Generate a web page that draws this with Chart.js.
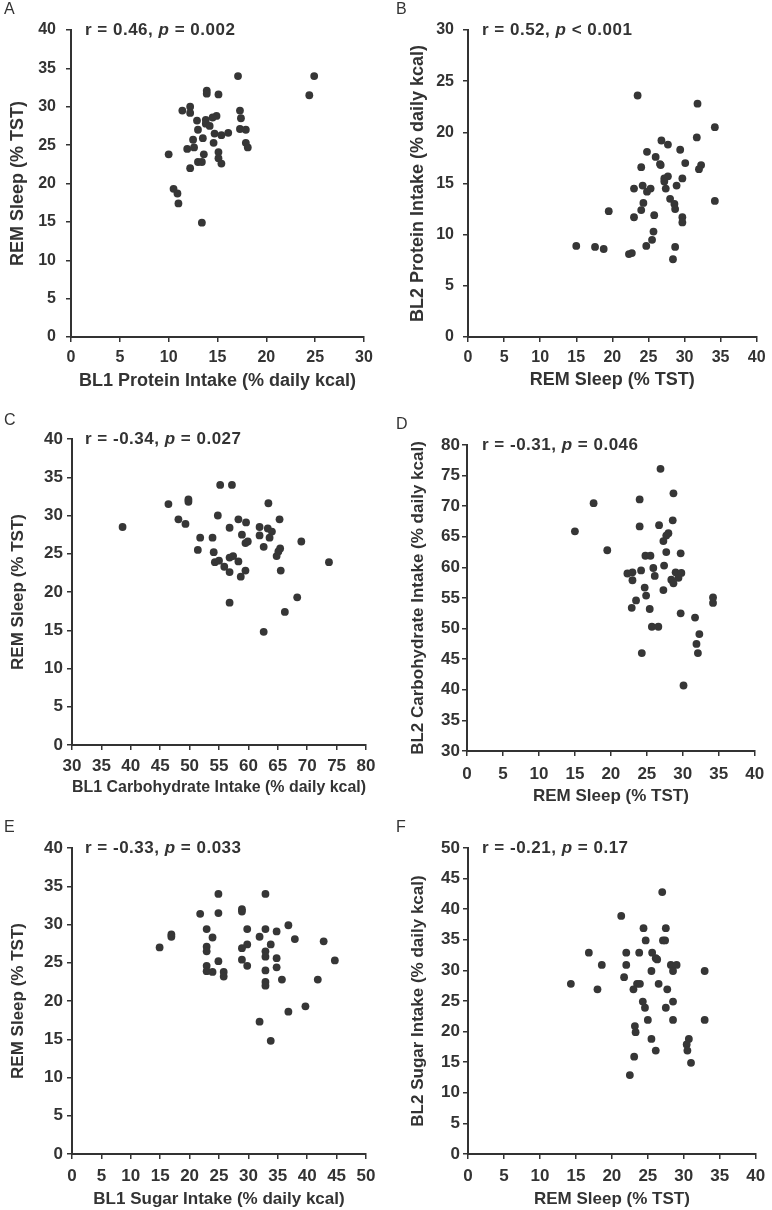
<!DOCTYPE html>
<html lang="en">
<head>
<meta charset="UTF-8">
<title>REM Sleep and Macronutrient Intake</title>
<script src="https://cdn.jsdelivr.net/npm/chart.js@4.4.1/dist/chart.umd.min.js"></script>
<style>
    body { margin: 0; background: #fff; }
    #page { position: relative; width: 772px; height: 1210px; overflow: hidden; }
    canvas.panel { position: absolute; }
    .letter { position: absolute; font: 16px 'Liberation Sans', Arial, sans-serif; color: #333; line-height: 18px; }
    .stat { position: absolute; font: bold 17px 'Liberation Sans', Arial, sans-serif; color: #333; line-height: 20px; white-space: nowrap; letter-spacing: 0.5px; }
</style>
</head>
<body>
<div id="page"></div>

<script>
// ---- data ----
// A: BL1 protein vs REM sleep
const bl1Protein = [17.1, 24.9, 24.4, 13.9, 13.9, 15.1, 12.2, 11.4, 12.2, 17.3, 17.4, 14.9, 14.5, 13.8, 12.9, 13.8, 14.2, 13.0, 17.3, 17.9, 14.7, 15.4, 16.1, 12.5, 13.5, 14.6, 17.9, 18.1, 11.9, 12.6, 10.0, 13.6, 15.1, 15.1, 13.0, 13.4, 15.4, 12.2, 10.5, 10.9, 11.0, 13.4];
const remSleepA = [34.0, 34.0, 31.5, 32.1, 31.7, 31.6, 30.0, 29.5, 29.2, 29.5, 28.5, 28.8, 28.6, 28.3, 28.2, 27.8, 27.5, 27.0, 27.1, 27.0, 26.5, 26.3, 26.6, 25.7, 25.9, 25.3, 25.3, 24.7, 24.5, 24.7, 23.8, 23.8, 24.1, 23.3, 22.8, 22.8, 22.6, 22.0, 19.3, 18.7, 17.4, 14.9];

// B: REM sleep vs BL2 protein
const remSleepB = [23.5, 31.8, 34.2, 31.7, 26.8, 27.7, 24.8, 29.4, 26.0, 30.1, 26.6, 26.7, 24.0, 32.3, 32.0, 27.7, 27.2, 29.7, 27.2, 24.2, 23.0, 25.3, 24.8, 27.4, 28.9, 28.0, 28.6, 24.3, 34.2, 28.7, 24.0, 19.5, 25.8, 23.0, 29.7, 29.7, 25.7, 25.5, 15.0, 17.6, 18.8, 24.7, 28.7, 22.3, 22.7, 28.4];
const bl2Protein = [23.6, 22.8, 20.5, 19.5, 19.2, 18.8, 18.1, 18.3, 17.6, 17.0, 16.9, 16.8, 16.6, 16.8, 16.4, 15.7, 15.5, 15.5, 15.2, 14.8, 14.5, 14.5, 14.2, 14.5, 14.8, 13.5, 13.0, 13.1, 13.3, 12.5, 12.4, 12.3, 11.9, 11.7, 11.7, 11.2, 10.3, 9.5, 8.9, 8.8, 8.6, 8.9, 8.8, 8.1, 8.2, 7.6];

// C: BL1 carbohydrate vs REM sleep
const bl1Carb = [55.2, 57.2, 46.4, 49.8, 49.8, 63.4, 54.8, 48.1, 49.3, 38.6, 58.3, 59.6, 65.3, 56.8, 61.9, 63.3, 64.0, 58.9, 61.9, 63.6, 51.8, 53.9, 59.5, 59.9, 69.0, 51.4, 54.1, 62.6, 65.4, 65.1, 64.8, 56.8, 57.4, 54.3, 55.0, 58.3, 73.7, 55.9, 56.8, 59.5, 58.7, 65.5, 56.8, 68.3, 66.2, 62.6];
const remSleepC = [34.0, 34.0, 31.5, 32.1, 31.8, 31.6, 30.0, 29.5, 28.9, 28.5, 29.5, 29.1, 29.5, 28.4, 28.5, 28.3, 27.9, 27.5, 27.4, 27.1, 27.1, 27.1, 26.4, 26.6, 26.6, 25.5, 25.2, 25.9, 25.7, 25.3, 24.7, 24.5, 24.7, 23.9, 24.1, 24.0, 23.9, 23.3, 22.6, 22.8, 22.0, 22.8, 18.6, 19.3, 17.4, 14.8];

// D: REM sleep vs BL2 carbohydrate
const remSleepD = [26.9, 28.7, 17.6, 24.0, 28.6, 24.0, 26.7, 15.0, 28.0, 27.7, 27.3, 19.5, 27.7, 29.7, 24.8, 25.5, 27.4, 25.9, 24.2, 22.3, 23.0, 29.0, 29.8, 29.4, 26.1, 23.0, 28.4, 28.7, 24.7, 27.3, 24.9, 34.2, 34.2, 23.5, 22.9, 25.4, 29.7, 31.7, 25.7, 26.6, 32.3, 31.9, 24.3, 32.1, 30.1];
const bl2Carb = [76.1, 72.1, 70.5, 71.1, 67.7, 66.7, 66.9, 65.9, 65.6, 65.2, 64.3, 62.8, 62.5, 62.3, 61.9, 61.9, 60.3, 59.9, 59.5, 59.0, 59.2, 59.2, 59.1, 58.3, 58.6, 57.9, 58.0, 57.4, 56.7, 56.3, 55.4, 55.1, 54.2, 54.6, 53.4, 53.2, 52.5, 51.8, 50.3, 50.3, 49.1, 47.5, 46.0, 46.0, 40.7];

// E: BL1 sugar vs REM sleep
const bl1Sugar = [24.9, 32.9, 21.8, 24.9, 28.9, 28.9, 36.8, 22.9, 29.8, 32.9, 34.8, 16.9, 16.9, 23.9, 31.9, 37.9, 42.8, 14.9, 22.9, 22.9, 28.9, 29.8, 33.8, 32.9, 32.9, 34.8, 28.9, 24.9, 44.7, 29.8, 22.9, 34.8, 22.9, 23.9, 25.8, 25.8, 32.9, 35.7, 41.8, 32.9, 32.9, 39.7, 36.8, 31.9, 33.8];
const remSleepE = [34.0, 34.0, 31.4, 31.5, 32.0, 31.7, 29.9, 29.4, 29.4, 29.4, 29.1, 28.7, 28.4, 28.3, 28.4, 28.1, 27.8, 27.0, 27.1, 26.5, 26.9, 27.4, 27.4, 26.5, 25.8, 25.6, 25.4, 25.2, 25.3, 24.6, 24.6, 24.4, 23.9, 23.8, 23.8, 23.2, 24.0, 22.8, 22.8, 22.5, 22.0, 19.3, 18.6, 17.3, 14.8];

// F: REM sleep vs BL2 sugar
const remSleepF = [27.0, 21.3, 24.4, 27.5, 24.7, 27.1, 27.4, 16.8, 22.0, 23.8, 25.6, 26.1, 26.3, 18.6, 22.0, 28.2, 29.0, 25.5, 28.5, 32.9, 14.3, 21.7, 23.5, 23.9, 26.5, 18.0, 23.0, 27.7, 24.3, 28.5, 24.6, 27.5, 25.0, 28.5, 32.9, 23.2, 23.3, 25.5, 30.7, 30.4, 30.5, 26.1, 23.1, 31.0, 22.5];
const bl2Sugar = [42.8, 38.9, 36.9, 36.9, 34.9, 34.9, 34.9, 32.9, 32.9, 32.9, 32.9, 32.0, 31.8, 30.9, 30.9, 30.9, 30.9, 29.9, 29.9, 29.9, 27.8, 28.9, 27.8, 27.8, 27.8, 26.9, 26.9, 26.9, 24.9, 24.9, 23.9, 23.9, 21.9, 21.9, 21.9, 20.9, 19.9, 18.8, 18.8, 17.9, 16.9, 16.9, 15.9, 14.9, 12.9];

// stats shown in each panel
const panelLetters = ['A', 'B', 'C', 'D', 'E', 'F'];
const rValues = ['0.46', '0.52', '-0.34', '-0.31', '-0.33', '-0.21'];
const pValues = ['= 0.002', '< 0.001', '= 0.027', '= 0.046', '= 0.033', '= 0.17'];

// axis ranges [min, max]
const xRanges = [[0, 30], [0, 40], [30, 80], [0, 40], [0, 50], [0, 40]];
const yRanges = [[0, 40], [0, 30], [0, 40], [30, 80], [0, 40], [0, 50]];

const REM = 'REM Sleep (% TST)';
const xTitles = ['BL1 Protein Intake (% daily kcal)', REM, 'BL1 Carbohydrate Intake (% daily kcal)', REM, 'BL1 Sugar Intake (% daily kcal)', REM];
const yTitles = [REM, 'BL2 Protein Intake (% daily kcal)', REM, 'BL2 Carbohydrate Intake (% daily kcal)', REM, 'BL2 Sugar Intake (% daily kcal)'];

const xSeries = [bl1Protein, remSleepB, bl1Carb, remSleepD, bl1Sugar, remSleepF];
const ySeries = [remSleepA, bl2Protein, remSleepC, bl2Carb, remSleepE, bl2Sugar];

// ---- layout (page pixels) ----
const TICK_LEN = 5;
const INK = '#333';
const layouts = [
    { rect: [0, 0, 386, 400],     area: [71, 30, 364, 337],    yTitleX: 18,  xLabelY: 358,  xTitleY: 381,  yLabelRight: 56,  narrow: false, letterY: 9,   statX: 85 },
    { rect: [386, 0, 386, 400],   area: [468, 30, 761, 337],   yTitleX: 418, xLabelY: 358,  xTitleY: 380,  yLabelRight: 454, narrow: false, letterY: 9,   statX: 482 },
    { rect: [0, 400, 386, 410],   area: [72, 439, 366, 745],   yTitleX: 18,  xLabelY: 766,  xTitleY: 787,  yLabelRight: 63,  narrow: true,  letterY: 420, statX: 85 },
    { rect: [386, 400, 386, 410], area: [467, 445, 761, 751],  yTitleX: 418, xLabelY: 774,  xTitleY: 796,  yLabelRight: 460, narrow: true,  letterY: 424, statX: 482 },
    { rect: [0, 810, 386, 400],   area: [72, 848, 366, 1154],  yTitleX: 18,  xLabelY: 1176, xTitleY: 1199, yLabelRight: 63,  narrow: true,  letterY: 827, statX: 85 },
    { rect: [386, 810, 386, 400], area: [468, 848, 761, 1154], yTitleX: 418, xLabelY: 1176, xTitleY: 1199, yLabelRight: 460, narrow: true,  letterY: 827, statX: 482 }
];

const page = document.getElementById('page');

layouts.forEach((L, i) => {
    const [left, top, w, h] = L.rect;
    const [al, at, ar, ab] = L.area;

    const family = L.narrow
        ? "'Liberation Sans Narrow', 'Arial Narrow', 'Liberation Sans', sans-serif"
        : "'Liberation Sans', Arial, sans-serif";
    const tickSize = L.narrow ? 17 : 16;
    const titleSize = L.narrow ? 17 : 18;
    const lh = titleSize * 1.2;

    const canvas = document.createElement('canvas');
    canvas.className = 'panel';
    canvas.width = w;
    canvas.height = h;
    canvas.style.left = left + 'px';
    canvas.style.top = top + 'px';
    canvas.style.width = w + 'px';
    canvas.style.height = h + 'px';
    page.appendChild(canvas);

    const yScaleWidth = al - left;
    const xScaleHeight = top + h - ab;

    const axisCommon = {
        grid: { drawOnChartArea: false, drawTicks: true, tickLength: TICK_LEN, color: INK, lineWidth: 1.5 },
        border: { display: true, color: INK, width: 2 }
    };

    new Chart(canvas.getContext('2d'), {
        type: 'scatter',
        data: {
            datasets: [{
                data: xSeries[i].map((x, k) => ({ x: x, y: ySeries[i][k] })),
                pointRadius: 3.9,
                backgroundColor: '#363636',
                borderColor: '#363636',
                borderWidth: 0
            }]
        },
        options: {
            responsive: false,
            animation: false,
            events: [],
            layout: { padding: { left: 0, top: at - top, right: left + w - ar, bottom: 0 } },
            plugins: { legend: { display: false }, tooltip: { enabled: false } },
            scales: {
                x: {
                    ...axisCommon,
                    min: xRanges[i][0],
                    max: xRanges[i][1],
                    afterFit: s => { s.height = xScaleHeight; },
                    ticks: {
                        stepSize: 5, autoSkip: false, maxRotation: 0,
                        color: INK,
                        padding: L.xLabelY - ab - TICK_LEN - tickSize * 0.6,
                        font: { family: family, size: tickSize, weight: 'bold' }
                    },
                    title: {
                        display: true, text: xTitles[i], color: INK,
                        padding: { top: 0, bottom: (top + h) - L.xTitleY - lh / 2 },
                        font: { family: family, size: titleSize, weight: 'bold' }
                    }
                },
                y: {
                    ...axisCommon,
                    min: yRanges[i][0],
                    max: yRanges[i][1],
                    afterFit: s => { s.width = yScaleWidth; },
                    ticks: {
                        stepSize: 5, autoSkip: false,
                        color: INK,
                        padding: al - TICK_LEN - L.yLabelRight,
                        font: { family: family, size: tickSize, weight: 'bold' }
                    },
                    title: {
                        display: true, text: yTitles[i], color: INK,
                        padding: { top: L.yTitleX - left - lh / 2, bottom: 0 },
                        font: { family: family, size: titleSize, weight: 'bold' }
                    }
                }
            }
        }
    });

    // panel letter
    const letter = document.createElement('div');
    letter.className = 'letter';
    letter.textContent = panelLetters[i];
    letter.style.left = (left + (i % 2 === 0 ? 4 : 10)) + 'px';
    letter.style.top = (L.letterY - 9) + 'px';
    page.appendChild(letter);

    // correlation text
    const stat = document.createElement('div');
    stat.className = 'stat';
    stat.innerHTML = 'r = ' + rValues[i] + ', <i>p</i> ' + pValues[i].replace('<', '&lt;');
    stat.style.left = L.statX + 'px';
    stat.style.top = (at - 10) + 'px';
    page.appendChild(stat);
});
</script>
</body>
</html>
